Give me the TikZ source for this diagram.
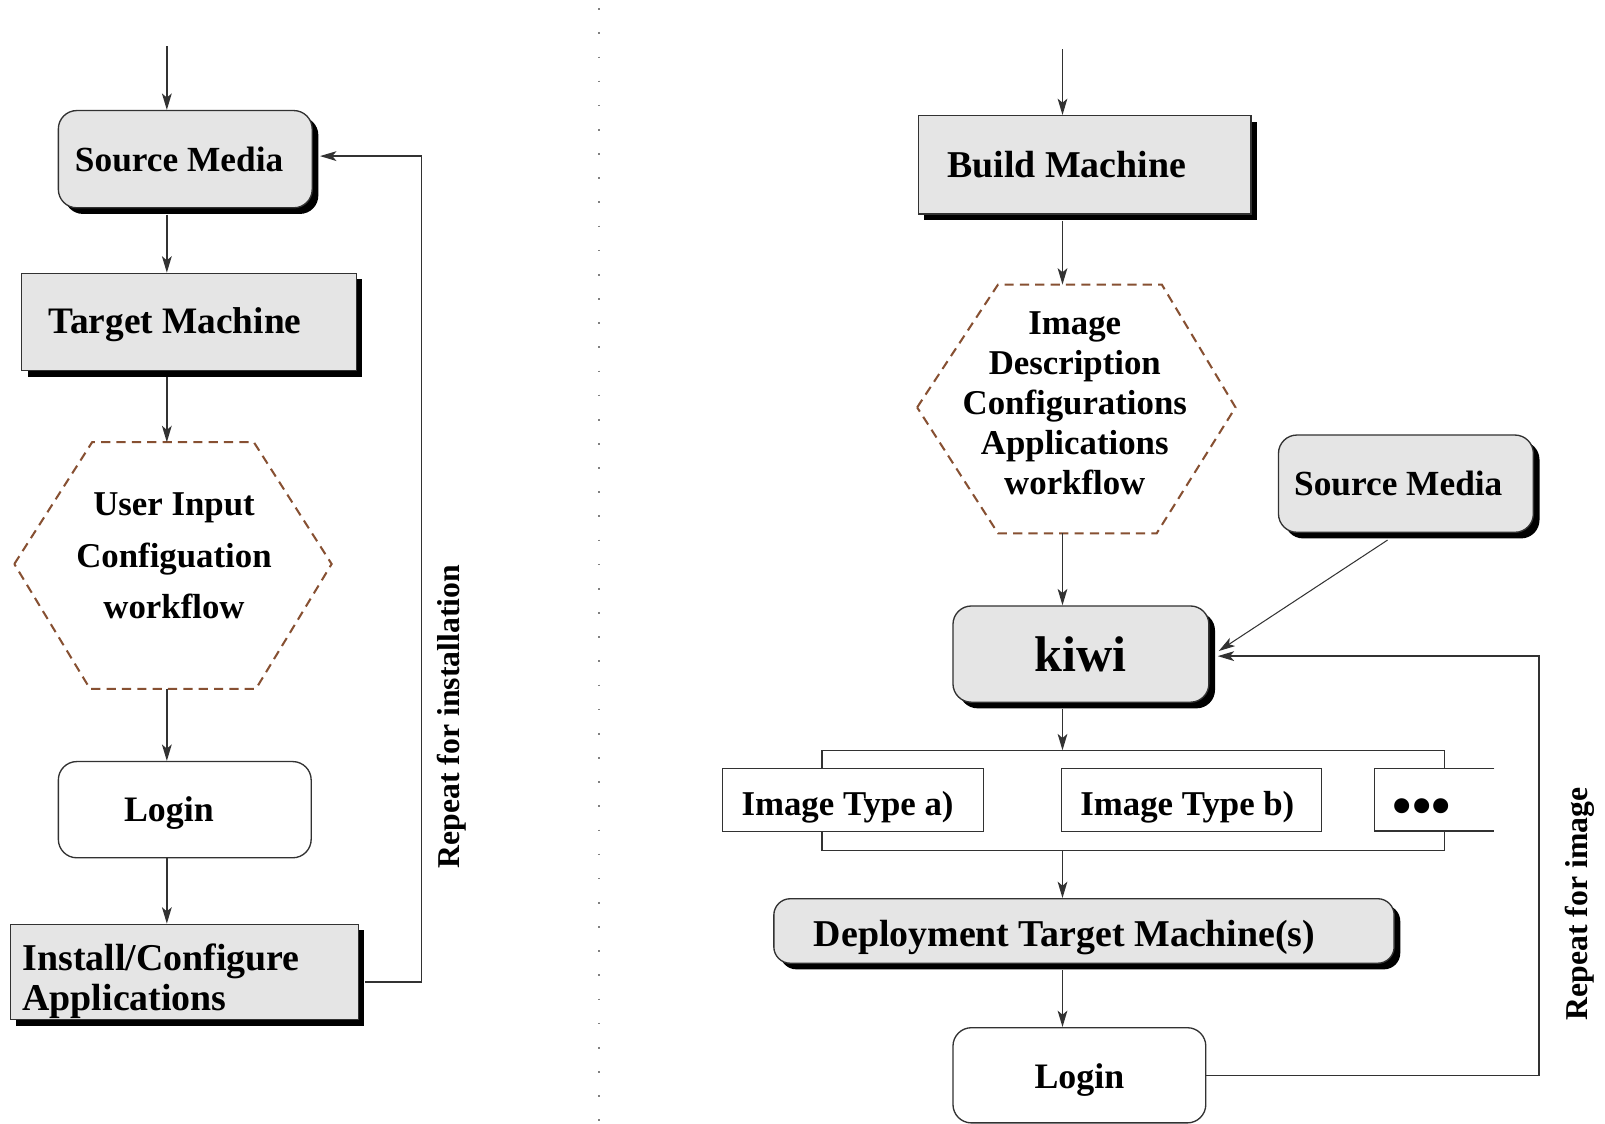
\documentclass[tikz,border=0pt]{standalone}
\usepackage{fontspec}
\setmainfont{Liberation Serif}
\usetikzlibrary{arrows.meta,calc,shadows}
\definecolor{boxfill}{RGB}{229,229,229}
\definecolor{hexcol}{RGB}{135,80,50}
\definecolor{linecol}{RGB}{50,50,50}
\tikzset{
  fs/.style={font=\fontsize{#1}{#1}\selectfont\bfseries},
  shade6/.style={drop shadow={shadow xshift=6pt,shadow yshift=-6pt,opacity=1,fill=black}},
  graybox/.style={draw=linecol, line width=1.3pt, fill=boxfill, shade6, inner sep=0pt},
  roundbox/.style={graybox, rounded corners=18pt},
  whitebox/.style={draw=linecol, line width=1.3pt, fill=white, rounded corners=18pt, inner sep=0pt},
  plainbox/.style={draw=linecol, line width=1.3pt, fill=white, inner sep=0pt},
  arr/.style={draw=linecol, line width=1.4pt, -{Stealth[length=16pt,width=9.5pt,inset=4pt]}},
  conn/.style={draw=linecol, line width=1.4pt},
  hexline/.style={draw=hexcol, line width=2pt, dash pattern=on 9pt off 6pt},
  vlabel/.style={fs=31, rotate=90}
}
\begin{document}
\begin{tikzpicture}[x=1pt,y=-1pt]
\fill[white] (0,0) rectangle (1568,1098);
\useasboundingbox (0,0) rectangle (1568,1098);

% divider
\draw[gray, line width=1.6pt, dash pattern=on 1.6pt off 22pt] (585,8) -- (585,1098);

% ---------------- left column ----------------
\coordinate (colL) at (163,0);
\coordinate (inL) at (163,45);
\node[roundbox, minimum width=248pt, minimum height=95pt, fs=34.5] (srcL) at (181,155.5) {Source Media\hspace*{12pt}};
\node[graybox, minimum width=327pt, minimum height=95pt, fs=36.5, text height=23pt, text depth=0pt] (tgtL) at (184.5,314.5) {Target Machine\hspace*{27pt}};
\coordinate (hexLtop) at (163,432);
\coordinate (hexLbot) at (163,673);
\draw[hexline] (14,551) -- (90,432) -- (248,432) -- (324,551) -- (250,673) -- (88,673) -- cycle;
\node[align=center, font=\fontsize{34}{50}\selectfont\bfseries] (hexL) at (170,543) {User Input\\Configuation\\workflow};
\node[whitebox, minimum width=247pt, minimum height=94pt, fs=35, text height=22.5pt, text depth=0pt] (loginL) at (180.5,791) {Login\hspace*{31pt}};
\node[graybox, minimum width=340pt, minimum height=93pt, text width=316pt, align=left, font=\fontsize{37}{39}\selectfont\bfseries] (instL) at (180,949.5) {\rule{0pt}{44pt}Install/Configure\\Applications};

\draw[arr] (inL) -- (srcL.north -| colL);
\draw[arr] ($(srcL.south -| colL)+(0,6)$) -- (tgtL.north -| colL);
\draw[arr] ($(tgtL.south -| colL)+(0,6)$) -- (hexLtop);
\draw[arr] (hexLbot) -- (loginL.north -| colL);
\draw[arr] (loginL.south -| colL) -- (instL.north -| colL);
\draw[arr] ($(instL.east)+(6,10)$) -- ++(55,0) |- ($(srcL.east)+(7,-3)$);
\node[vlabel] (repL) at (441,700) {Repeat for installation};

% ---------------- right column ----------------
\coordinate (colR) at (1038,0);
\coordinate (inR) at (1038,48);
\node[graybox, minimum width=325pt, minimum height=96pt, fs=37] (buildR) at (1059.5,161) {Build Machine\hspace*{35pt}};
\coordinate (hexRtop) at (1038,278);
\coordinate (hexRbot) at (1038,521);
\draw[hexline] (896,398) -- (975,278) -- (1135,278) -- (1207,398) -- (1130,521) -- (975,521) -- cycle;
\node[align=center, font=\fontsize{34}{39}\selectfont\bfseries] (hexR) at (1050,394) {Image\\Description\\Configurations\\Applications\\workflow};
\node[roundbox, minimum width=250pt, minimum height=94pt, fs=49] (kiwi) at (1056,639) {kiwi};
\node[roundbox, minimum width=249pt, minimum height=95pt, fs=34.5] (srcR) at (1373.5,472.5) {Source Media\hspace*{15pt}};

\node[plainbox, minimum width=255pt, minimum height=61pt, fs=34, text height=30pt, text depth=0pt] (imgA) at (833.5,781.5) {Image Type a)\hspace*{11pt}};
\node[plainbox, minimum width=254pt, minimum height=61pt, fs=34, text height=30pt, text depth=0pt] (imgB) at (1164,781.5) {Image Type b)\hspace*{8pt}};
\node[font=\fontsize{54}{54}\selectfont\bfseries] (dotsR) at (1389,793) {•••};
\draw[conn] (1460,751) -- (1343,751) -- (1343,812) -- (1460,812);
\coordinate (brTL) at (803,733);
\coordinate (brTR) at (1411,733);
\coordinate (brBL) at (803,831);
\coordinate (brBR) at (1411,831);
\coordinate (brT) at (1038,733);
\coordinate (brB) at (1038,831);
\draw[conn] (imgA.north -| brTL) -- (brTL) -- (brTR) -- (1411,751);
\draw[conn] (imgA.south -| brBL) -- (brBL) -- (brBR) -- (1411,812);

\node[roundbox, rounded corners=16pt, minimum width=606pt, minimum height=63pt, fs=37, text height=29.5pt, text depth=0pt] (deploy) at (1059,909.5) {Deployment Target Machine(s)\hspace*{38pt}};
\node[whitebox, minimum width=247pt, minimum height=93pt, fs=35, text height=26.5pt, text depth=0pt] (loginR) at (1054.5,1050.5) {Login};

\draw[arr] (inR) -- (buildR.north -| colR);
\draw[arr] ($(buildR.south -| colR)+(0,6)$) -- (hexRtop);
\draw[arr] (hexRbot) -- (kiwi.north -| colR);
\draw[arr] ($(kiwi.south -| colR)+(0,6)$) -- (brT);
\draw[arr] (brB) -- (deploy.north -| colR);
\draw[arr] ($(deploy.south -| colR)+(0,6)$) -- (loginR.north -| colR);
\draw[arr, line width=1pt] ($(srcR.south)+(-18,7)$) -- ($(kiwi.east)+(9,-3)$);
\draw[arr] (loginR.east) -- ++(325,0) |- ($(kiwi.east)+(8,2)$);
\node[vlabel] (repR) at (1543,883) {Repeat for image};
\end{tikzpicture}
\end{document}
